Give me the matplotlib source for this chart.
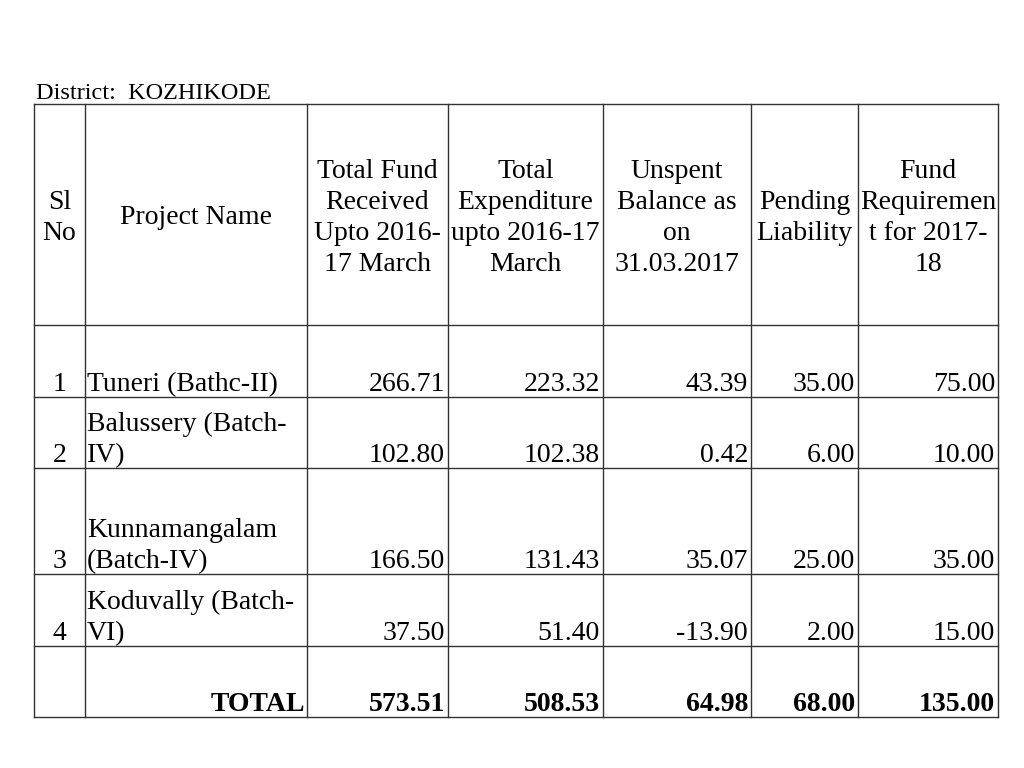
import matplotlib.pyplot as plt

# table contents
district = "District:  KOZHIKODE"
headers = ["Sl\nNo", "Project Name", "Total Fund\nReceived\nUpto 2016-\n17 March",
           "Total\nExpenditure\nupto 2016-17\nMarch", "Unspent\nBalance as\non\n31.03.2017",
           "Pending\nLiability", "Fund\nRequiremen\nt for 2017-\n18"]
sl_no = ["1", "2", "3", "4", ""]
projects = ["Tuneri (Bathc-II)", "Balussery (Batch-\nIV)", "Kunnamangalam\n(Batch-IV)",
            "Koduvally (Batch-\nVI)", "TOTAL"]
fund_received = [266.71, 102.80, 166.50, 37.50, 573.51]
expenditure = [223.32, 102.38, 131.43, 51.40, 508.53]
unspent = [43.39, 0.42, 35.07, -13.90, 64.98]
pending = [35.00, 6.00, 25.00, 2.00, 68.00]
requirement = [75.00, 10.00, 35.00, 15.00, 135.00]

# grid layout in pixels
col_x = [34, 85, 307, 448, 603, 751, 858, 998]
row_y = [104, 325, 397, 468, 574, 646, 717]
line_h = 31

plt.rcParams['font.family'] = ['Liberation Serif', 'DejaVu Serif']
fig = plt.figure(figsize=(10.24, 7.68), dpi=100)
ax = fig.add_axes([0, 0, 1, 1])
ax.set_xlim(0, 1024)
ax.set_ylim(768, 0)
ax.axis('off')

lc = '#333333'
for x in col_x:
    ax.plot([x, x], [row_y[0], row_y[-1]], color=lc, lw=1)
for y in row_y:
    ax.plot([col_x[0], col_x[-1]], [y, y], color=lc, lw=1)

fs = 20
ax.text(36, 99, district, fontsize=17.5, va='baseline', ha='left')

# header cells, one text per line so spacing is exact
hb = (row_y[0] + row_y[1]) / 2 + 10
for i, h in enumerate(headers):
    cx = (col_x[i] + col_x[i + 1]) / 2
    lines = h.split('\n')
    n = len(lines)
    for k, s in enumerate(lines):
        ax.text(cx, hb + (k - (n - 1) / 2) * line_h, s, fontsize=fs,
                ha='center', va='baseline')

cols = [fund_received, expenditure, unspent, pending, requirement]
for r in range(len(projects)):
    base = row_y[r + 2] - 6
    bold = r == len(projects) - 1
    w = 'bold' if bold else 'normal'
    ax.text((col_x[0] + col_x[1]) / 2, base, sl_no[r], fontsize=fs, ha='center', va='baseline')
    if bold:
        ax.text(col_x[2] - 2, base, projects[r], fontsize=fs, ha='right', va='baseline', weight='bold')
    else:
        lines = projects[r].split('\n')
        n = len(lines)
        for k, s in enumerate(lines):
            ax.text(col_x[1] + 2, base - (n - 1 - k) * line_h, s, fontsize=fs,
                    ha='left', va='baseline')
    for c, vals in enumerate(cols):
        ax.text(col_x[c + 3] - 3, base, f"{vals[r]:.2f}", fontsize=fs, ha='right', va='baseline', weight=w)

fig.savefig("out.png", dpi=100)
